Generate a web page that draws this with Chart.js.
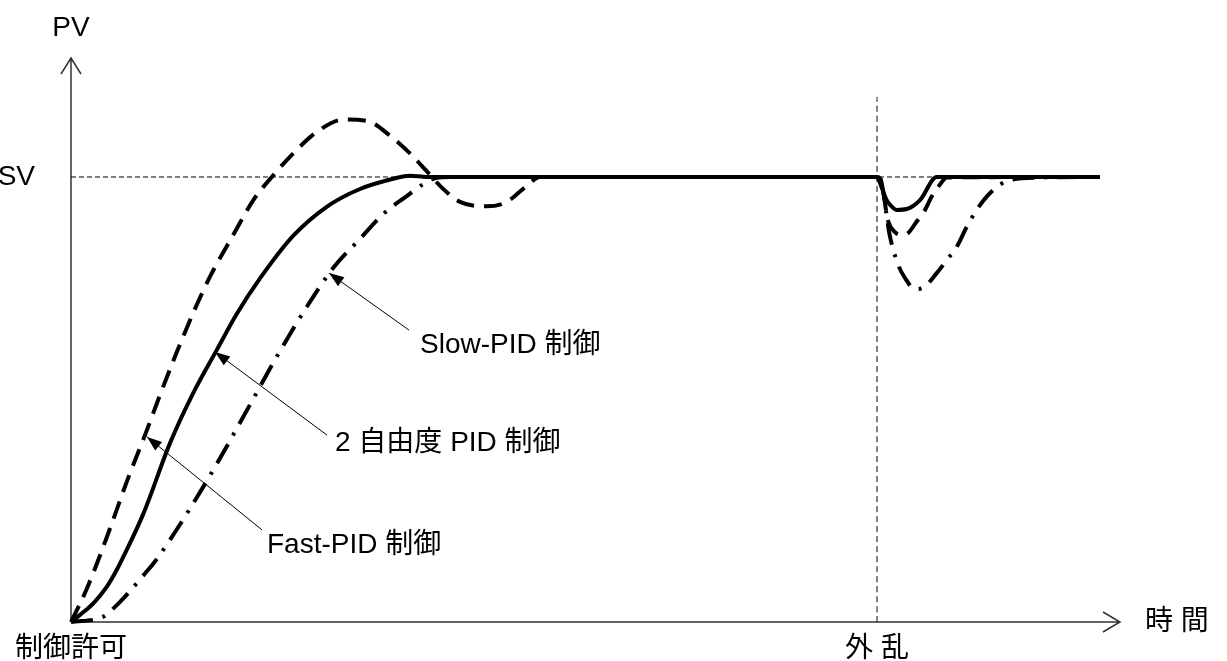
<!DOCTYPE html>
<html>
<head>
<meta charset="utf-8">
<script src="https://cdn.jsdelivr.net/npm/chart.js@4.4.1/dist/chart.umd.min.js"></script>
<style>
  html, body { margin: 0; padding: 0; background: #fff; }
  canvas { display: block; }
</style>
</head>
<body>
<canvas id="pidChart" width="1227" height="661"></canvas>
<script>
// Time axis and PV values (SV = 1)
const fastTime = [0, 15.7, 39, 55.7, 75.7, 89, 105.7, 122.3, 139, 162.3, 182.3, 202.3, 222.3, 245.7, 272.3, 295.7, 319, 339, 355.7, 372.3, 389, 415.7, 435.7, 455.7, 469, 806, 809, 817.3, 824, 830, 837, 845.7, 854, 860.7, 869, 875.7, 1029];
const fastPV = [0, 0.074, 0.21, 0.315, 0.43, 0.51, 0.606, 0.695, 0.776, 0.87, 0.948, 1.004, 1.053, 1.101, 1.129, 1.126, 1.093, 1.053, 1.013, 0.973, 0.944, 0.934, 0.944, 0.98, 1.0, 1.0, 0.997, 0.9, 0.876, 0.870, 0.874, 0.900, 0.926, 0.956, 0.983, 0.999, 1.0];

const twoDofTime = [0, 9, 22.3, 35.7, 45.7, 50.7, 72.3, 99, 122.3, 145.7, 165.7, 189, 222.3, 255.7, 289, 322.3, 339, 355.7, 806, 807, 815.7, 821, 825.7, 835.7, 849, 865.7, 1029];
const twoDofPV = [0, 0.016, 0.042, 0.079, 0.117, 0.139, 0.243, 0.402, 0.515, 0.611, 0.692, 0.772, 0.868, 0.933, 0.973, 0.996, 1.003, 1.0, 1.0, 0.997, 0.948, 0.933, 0.926, 0.928, 0.948, 1.0, 1.0];

const slowTime = [0, 32.3, 44, 54, 74, 84, 115.7, 145.7, 175.7, 205.7, 235.7, 262.3, 289, 312.3, 335.7, 352.3, 365.7, 380, 806, 809, 819, 827.3, 834, 844, 852, 865.7, 875.7, 885.7, 895.7, 905.7, 915.7, 929, 940.7, 955.7, 1029];
const slowPV = [0, 0.012, 0.034, 0.057, 0.109, 0.136, 0.243, 0.355, 0.475, 0.596, 0.708, 0.796, 0.861, 0.917, 0.957, 0.984, 0.998, 1.0, 1.0, 0.997, 0.866, 0.802, 0.773, 0.748, 0.751, 0.784, 0.813, 0.843, 0.888, 0.926, 0.956, 0.983, 0.994, 0.998, 1.0];

const svLevel = 1;
const svEnd = 1029;
const disturbanceTime = 806;
const disturbanceTop = 1.18;

// labels pointing at the curves: [text, tip x, tip y, tail x, tail y, text x, text y]
const curveLabels = [
    ['Slow-PID 制御', 258, 0.784, 338, 0.656, 349, 0.622],
    ['2 自由度 PID 制御', 144, 0.607, 256, 0.420, 264, 0.402],
    ['Fast-PID 制御', 76, 0.416, 191, 0.207, 196, 0.173]
];

const FONT = '28px "Liberation Sans", Arial, "Noto Sans CJK JP", sans-serif';

function toPoints(xs, ys) {
    return xs.map((x, i) => ({ x: x, y: ys[i] }));
}

// axes with open arrow heads, drawn under the curves
const axesPlugin = {
    id: 'axes',
    beforeDatasetsDraw(chart) {
        const { ctx, chartArea: a } = chart;
        ctx.save();
        ctx.strokeStyle = '#333';
        ctx.lineWidth = 1.5;
        ctx.beginPath();
        ctx.moveTo(a.left, a.bottom);
        ctx.lineTo(a.right, a.bottom);
        ctx.moveTo(a.left, a.bottom);
        ctx.lineTo(a.left, a.top);
        ctx.moveTo(a.right - 17, a.bottom - 10);
        ctx.lineTo(a.right, a.bottom);
        ctx.lineTo(a.right - 17, a.bottom + 10);
        ctx.moveTo(a.left - 10, a.top + 16);
        ctx.lineTo(a.left, a.top);
        ctx.lineTo(a.left + 10, a.top + 16);
        ctx.stroke();
        ctx.restore();
    }
};

// texts and pointer arrows
const labelPlugin = {
    id: 'labels',
    afterDatasetsDraw(chart) {
        const { ctx, chartArea: a, scales: { x, y } } = chart;
        ctx.save();
        ctx.fillStyle = '#000';
        ctx.font = FONT;
        ctx.textBaseline = 'middle';

        ctx.textAlign = 'center';
        ctx.fillText('PV', a.left, a.top - 30);
        ctx.fillText('制御許可', a.left, a.bottom + 27);
        ctx.fillText('外 乱', x.getPixelForValue(disturbanceTime), a.bottom + 27);
        ctx.textAlign = 'right';
        ctx.fillText('SV', a.left - 36, y.getPixelForValue(svLevel));
        ctx.textAlign = 'left';
        ctx.fillText('時 間', a.right + 25, a.bottom);

        curveLabels.forEach(([text, tx, ty, ex, ey, lx, ly]) => {
            const x1 = x.getPixelForValue(tx), y1 = y.getPixelForValue(ty);
            const x2 = x.getPixelForValue(ex), y2 = y.getPixelForValue(ey);
            const ang = Math.atan2(y1 - y2, x1 - x2);
            ctx.strokeStyle = '#000';
            ctx.lineWidth = 1;
            ctx.beginPath();
            ctx.moveTo(x2, y2);
            ctx.lineTo(x1, y1);
            ctx.stroke();
            ctx.beginPath();
            ctx.moveTo(x1, y1);
            ctx.lineTo(x1 - 15 * Math.cos(ang) + 5.5 * Math.sin(ang), y1 - 15 * Math.sin(ang) - 5.5 * Math.cos(ang));
            ctx.lineTo(x1 - 15 * Math.cos(ang) - 5.5 * Math.sin(ang), y1 - 15 * Math.sin(ang) + 5.5 * Math.cos(ang));
            ctx.closePath();
            ctx.fill();
            ctx.fillText(text, x.getPixelForValue(lx), y.getPixelForValue(ly));
        });
        ctx.restore();
    }
};

const ctx = document.getElementById('pidChart').getContext('2d');
const pidChart = new Chart(ctx, {
    type: 'scatter',
    data: {
        datasets: [{
            label: '2 自由度 PID 制御',
            data: toPoints(twoDofTime, twoDofPV),
            borderColor: '#000',
            borderWidth: 4,
        }, {
            label: 'Fast-PID 制御',
            data: toPoints(fastTime, fastPV),
            borderColor: '#000',
            borderWidth: 4,
            borderDash: [18, 10],
        }, {
            label: 'Slow-PID 制御',
            data: toPoints(slowTime, slowPV),
            borderColor: '#000',
            borderWidth: 4,
            borderDash: [22, 10, 3, 10],
        }, {
            label: 'SV',
            data: [{ x: 0, y: svLevel }, { x: svEnd, y: svLevel }],
            borderColor: '#000',
            borderWidth: 1,
            borderDash: [5, 3],
        }, {
            label: '外乱',
            data: [{ x: disturbanceTime, y: 0 }, { x: disturbanceTime, y: disturbanceTop }],
            borderColor: '#000',
            borderWidth: 1,
            borderDash: [6, 4],
        }]
    },
    options: {
        responsive: false,
        animation: false,
        devicePixelRatio: 1,
        showLine: true,
        clip: false,
        layout: { padding: { left: 71, right: 107, top: 58, bottom: 39 } },
        elements: {
            point: { radius: 0 },
            line: { cubicInterpolationMode: 'monotone', fill: false }
        },
        scales: {
            x: { type: 'linear', min: 0, max: 1049, display: false },
            y: { type: 'linear', min: 0, max: 1.2674, display: false }
        },
        plugins: {
            legend: { display: false },
            tooltip: { enabled: false }
        }
    },
    plugins: [axesPlugin, labelPlugin]
});
</script>
</body>
</html>
